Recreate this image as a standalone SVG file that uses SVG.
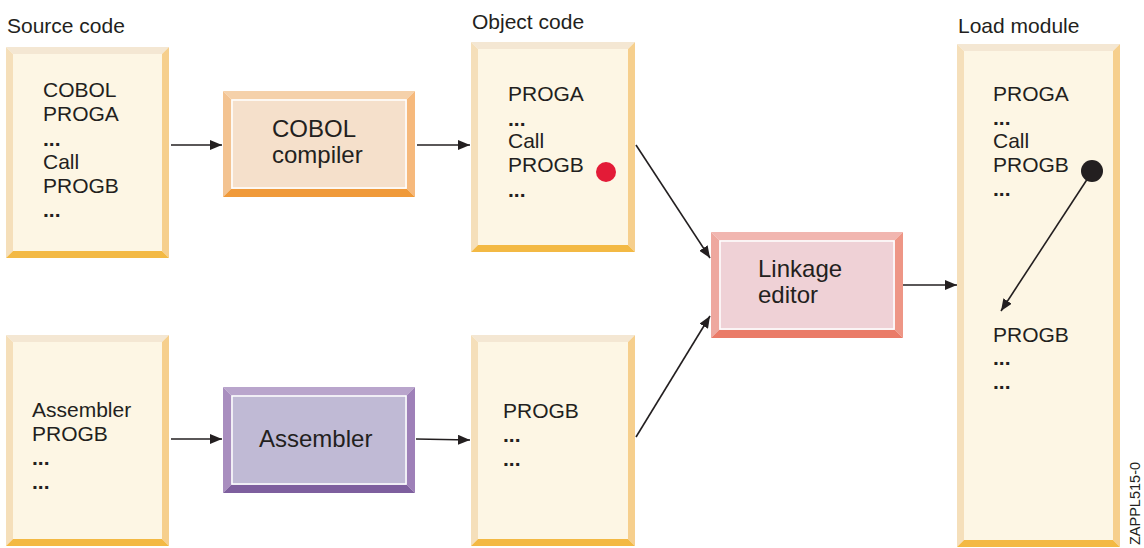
<svg xmlns="http://www.w3.org/2000/svg" width="1144" height="548" viewBox="0 0 1144 548">
  <defs>
    <marker id="arrow" viewBox="0 0 12 10" refX="12" refY="5" markerWidth="12" markerHeight="10" markerUnits="userSpaceOnUse" orient="auto">
      <path d="M0,0 L12,5 L0,10 Z" fill="#231f20"/>
    </marker>
    <style>
      text { font-family: "Liberation Sans", Arial, sans-serif; fill: #231f20; }
      .title { font-size: 21px; }
      .body { font-size: 21px; }
      .dots { font-size: 21px; font-weight: bold; }
      .proc { font-size: 24px; }
      .id { font-size: 14.5px; }
      .link { stroke: #231f20; stroke-width: 1.6; fill: none; marker-end: url(#arrow); }
      /* module panels (source, object, load) */
      .m-top { fill: #f4e7d3; }
      .m-left { fill: #f5dfba; }
      .m-right { fill: #f6cf8d; }
      .m-bottom { fill: #f3b944; }
      .m-face { fill: #fdf6e4; }
      /* processor panels */
      .edge { fill: none; stroke: #ffffff; stroke-width: 1.5; }
      .c-top { fill: #f5d1aa; } .c-left { fill: #f3c391; } .c-right { fill: #f6b97c; } .c-bottom { fill: #f09a3a; } .c-face { fill: #f5e0cb; }
      .a-top { fill: #b9a5cc; } .a-left { fill: #a98ebf; } .a-right { fill: #9e80b8; } .a-bottom { fill: #7e5f9e; } .a-face { fill: #c0bad5; }
      .l-top { fill: #f1b6b0; } .l-left { fill: #eea89f; } .l-right { fill: #ee9686; } .l-bottom { fill: #ea7b68; } .l-face { fill: #efd1d6; }
    </style>
  </defs>

  <rect width="1144" height="548" fill="#ffffff"/>

  <!-- column headings -->
  <text class="title" x="7" y="33">Source code</text>
  <text class="title" x="472" y="29">Object code</text>
  <text class="title" x="958" y="33">Load module</text>

  <!-- COBOL source module -->
  <g id="src-cobol">
    <polygon class="m-top" points="6,47 169,47 162,54 13,54"/>
    <polygon class="m-left" points="6,47 13,54 13,251 6,258"/>
    <polygon class="m-right" points="169,47 169,258 162,251 162,54"/>
    <polygon class="m-bottom" points="6,258 169,258 162,251 13,251"/>
    <rect class="m-face" x="13" y="54" width="149" height="197"/>
    <text class="body" x="43" y="97">COBOL</text>
    <text class="body" x="43" y="121">PROGA</text>
    <text class="dots" x="43" y="146">...</text>
    <text class="body" x="43" y="169">Call</text>
    <text class="body" x="43" y="193">PROGB</text>
    <text class="dots" x="43" y="217">...</text>
  </g>

  <!-- Assembler source module -->
  <g id="src-asm">
    <polygon class="m-top" points="6,335 169,335 162,342 13,342"/>
    <polygon class="m-left" points="6,335 13,342 13,539 6,546"/>
    <polygon class="m-right" points="169,335 169,546 162,539 162,342"/>
    <polygon class="m-bottom" points="6,546 169,546 162,539 13,539"/>
    <rect class="m-face" x="13" y="342" width="149" height="197"/>
    <text class="body" x="32" y="417">Assembler</text>
    <text class="body" x="32" y="441">PROGB</text>
    <text class="dots" x="32" y="465">...</text>
    <text class="dots" x="32" y="489">...</text>
  </g>

  <!-- COBOL compiler -->
  <g id="cobol-compiler">
    <polygon class="c-top" points="223,91 415,91 407,99 231,99"/>
    <polygon class="c-left" points="223,91 231,99 231,189 223,197"/>
    <polygon class="c-right" points="415,91 415,197 407,189 407,99"/>
    <polygon class="c-bottom" points="223,197 415,197 407,189 231,189"/>
    <rect class="c-face" x="231" y="99" width="176" height="90"/>
    <rect class="edge" x="232" y="100" width="174" height="88"/>
    <text class="proc" x="272" y="137">COBOL</text>
    <text class="proc" x="272" y="163">compiler</text>
  </g>

  <!-- Assembler -->
  <g id="assembler">
    <polygon class="a-top" points="223,387 415,387 407,395 231,395"/>
    <polygon class="a-left" points="223,387 231,395 231,485 223,493"/>
    <polygon class="a-right" points="415,387 415,493 407,485 407,395"/>
    <polygon class="a-bottom" points="223,493 415,493 407,485 231,485"/>
    <rect class="a-face" x="231" y="395" width="176" height="90"/>
    <rect class="edge" x="232" y="396" width="174" height="88"/>
    <text class="proc" x="259" y="447">Assembler</text>
  </g>

  <!-- Object module PROGA -->
  <g id="obj-proga">
    <polygon class="m-top" points="471,42 635,42 628,49 478,49"/>
    <polygon class="m-left" points="471,42 478,49 478,245 471,252"/>
    <polygon class="m-right" points="635,42 635,252 628,245 628,49"/>
    <polygon class="m-bottom" points="471,252 635,252 628,245 478,245"/>
    <rect class="m-face" x="478" y="49" width="150" height="196"/>
    <text class="body" x="508" y="101">PROGA</text>
    <text class="dots" x="508" y="126">...</text>
    <text class="body" x="508" y="148">Call</text>
    <text class="body" x="508" y="172">PROGB</text>
    <text class="dots" x="508" y="197">...</text>
    <circle cx="606" cy="172" r="10" fill="#e31b37"/>
  </g>

  <!-- Object module PROGB -->
  <g id="obj-progb">
    <polygon class="m-top" points="471,335 635,335 628,342 478,342"/>
    <polygon class="m-left" points="471,335 478,342 478,539 471,546"/>
    <polygon class="m-right" points="635,335 635,546 628,539 628,342"/>
    <polygon class="m-bottom" points="471,546 635,546 628,539 478,539"/>
    <rect class="m-face" x="478" y="342" width="150" height="197"/>
    <text class="body" x="503" y="418">PROGB</text>
    <text class="dots" x="503" y="442">...</text>
    <text class="dots" x="503" y="466">...</text>
  </g>

  <!-- Linkage editor -->
  <g id="linkage-editor">
    <polygon class="l-top" points="711,232 903,232 895,240 719,240"/>
    <polygon class="l-left" points="711,232 719,240 719,330 711,338"/>
    <polygon class="l-right" points="903,232 903,338 895,330 895,240"/>
    <polygon class="l-bottom" points="711,338 903,338 895,330 719,330"/>
    <rect class="l-face" x="719" y="240" width="176" height="90"/>
    <rect class="edge" x="720" y="241" width="174" height="88"/>
    <text class="proc" x="758" y="277">Linkage</text>
    <text class="proc" x="758" y="303">editor</text>
  </g>

  <!-- Load module -->
  <g id="load-module">
    <polygon class="m-top" points="957,44 1120,44 1113,51 964,51"/>
    <polygon class="m-left" points="957,44 964,51 964,540 957,547"/>
    <polygon class="m-right" points="1120,44 1120,547 1113,540 1113,51"/>
    <polygon class="m-bottom" points="957,547 1120,547 1113,540 964,540"/>
    <rect class="m-face" x="964" y="51" width="149" height="489"/>
    <text class="body" x="993" y="101">PROGA</text>
    <text class="dots" x="993" y="125">...</text>
    <text class="body" x="993" y="148">Call</text>
    <text class="body" x="993" y="172">PROGB</text>
    <text class="dots" x="993" y="196">...</text>
    <text class="body" x="993" y="342">PROGB</text>
    <text class="dots" x="993" y="365">...</text>
    <text class="dots" x="993" y="389">...</text>
    <circle cx="1092" cy="171" r="11" fill="#231f20"/>
  </g>

  <!-- connectors -->
  <g id="connectors">
    <line class="link" x1="171" y1="145" x2="222" y2="145"/>
    <line class="link" x1="417" y1="145" x2="470" y2="145"/>
    <line class="link" x1="171" y1="439" x2="222" y2="439"/>
    <line class="link" x1="416" y1="439" x2="470" y2="440"/>
    <line class="link" x1="636" y1="145" x2="710" y2="258"/>
    <line class="link" x1="636" y1="437" x2="710" y2="316"/>
    <line class="link" x1="903" y1="285" x2="957" y2="285"/>
    <line class="link" x1="1088" y1="178" x2="1001" y2="311"/>
  </g>

  <text class="id" transform="translate(1140,545) rotate(-90)">ZAPPL515-0</text>
</svg>
